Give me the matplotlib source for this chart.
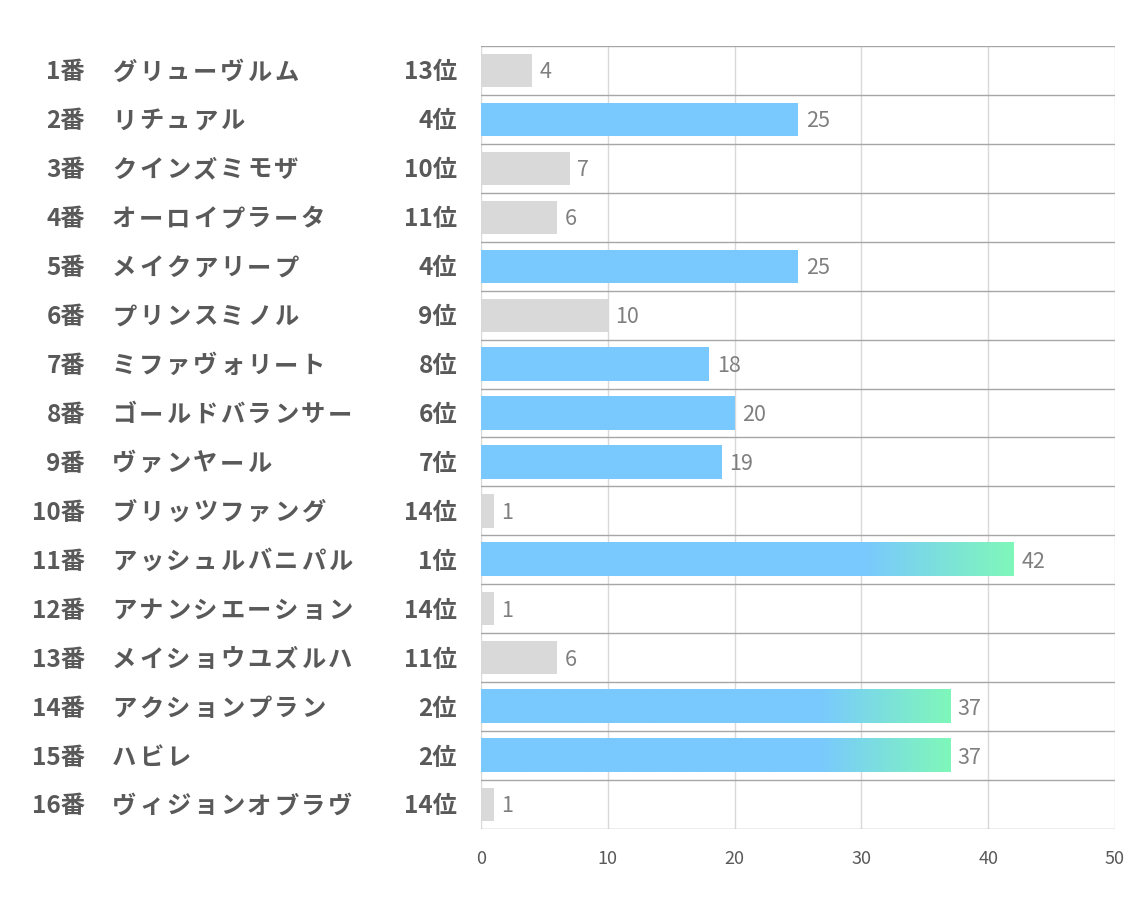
import matplotlib.pyplot as plt
import matplotlib.transforms as mtrans
import numpy as np

plt.rcParams['font.family'] = ['Noto Sans CJK JP', 'DejaVu Sans']

nums = list(range(1, 17))
names = ["グリューヴルム", "リチュアル", "クインズミモザ", "オーロイプラータ",
         "メイクアリープ", "プリンスミノル", "ミファヴォリート", "ゴールドバランサー",
         "ヴァンヤール", "ブリッツファング", "アッシュルバニパル", "アナンシエーション",
         "メイショウユズルハ", "アクションプラン", "ハビレ", "ヴィジョンオブラヴ"]
ranks = [13, 4, 10, 11, 4, 9, 8, 6, 7, 14, 1, 14, 11, 2, 2, 14]
values = [4, 25, 7, 6, 25, 10, 18, 20, 19, 1, 42, 1, 6, 37, 37, 1]

GRAY = "#d9d9d9"
BLUE = "#79c9fe"
GREEN = "#7ff7ba"
TXT = "#595959"

W, H = 1134, 907
fig = plt.figure(figsize=(W / 100, H / 100), dpi=100)
ax = fig.add_axes([0.4242, 0.0860, 0.5590, 0.8633])

y = np.arange(len(values))
h = 0.68
colors = [BLUE if r <= 8 else GRAY for r in ranks]
bars = ax.barh(y, values, height=h, color=colors, zorder=2)

# gradient on the top-3 bars
c1 = np.array([int(BLUE[i:i + 2], 16) for i in (1, 3, 5)]) / 255
c2 = np.array([int(GREEN[i:i + 2], 16) for i in (1, 3, 5)]) / 255
for b, r, v in zip(bars, ranks, values):
    if r <= 3:
        t = np.linspace(0, 1, 256)
        t = np.clip((t - 0.72) / 0.28, 0, 1)
        grad = (c1[None, :] * (1 - t[:, None]) + c2[None, :] * t[:, None])[None, :, :]
        yc = b.get_y() + b.get_height() / 2
        ax.imshow(grad, extent=[0, v, yc + h / 2, yc - h / 2], aspect='auto',
                  zorder=3, interpolation='bilinear')
        b.set_visible(False)

for yi, v in zip(y, values):
    ax.text(v + 0.6, yi + 0.04, str(v), va='center', ha='left', fontsize=15.5,
            color="#7f7f7f", zorder=4)

ax.set_xlim(0, 50)
ax.set_ylim(len(values) - 0.5, -0.5)
ax.set_xticks(range(0, 51, 10))
ax.set_yticks([])
for xv in range(0, 51, 10):
    ax.axvline(xv, color="#d9d9d9", lw=1, zorder=1)
for yb in np.arange(-0.5, len(values), 1):
    ax.axhline(yb, color="#a6a6a6", lw=1, zorder=1)
for s in ax.spines.values():
    s.set_visible(False)
ax.tick_params(axis='x', length=0, pad=15, labelsize=13, labelcolor=TXT)

trans = mtrans.blended_transform_factory(fig.transFigure, ax.transData)
step = 27 / W  # per-character advance of the horse names
fs = 17.5
for yi, n, nm, r in zip(y, nums, names, ranks):
    yt = yi + 0.04
    ax.text(85 / W, yt, f"{n}番", transform=trans, ha='right', va='center',
            fontsize=fs, fontweight='bold', color=TXT)
    for k, ch in enumerate(nm):
        ax.text(112 / W + k * step, yt, ch, transform=trans, ha='left', va='center',
                fontsize=fs, fontweight='bold', color=TXT)
    ax.text(457 / W, yt, f"{r}位", transform=trans, ha='right', va='center',
            fontsize=fs, fontweight='bold', color=TXT)

fig.savefig("out.png", dpi=100)
